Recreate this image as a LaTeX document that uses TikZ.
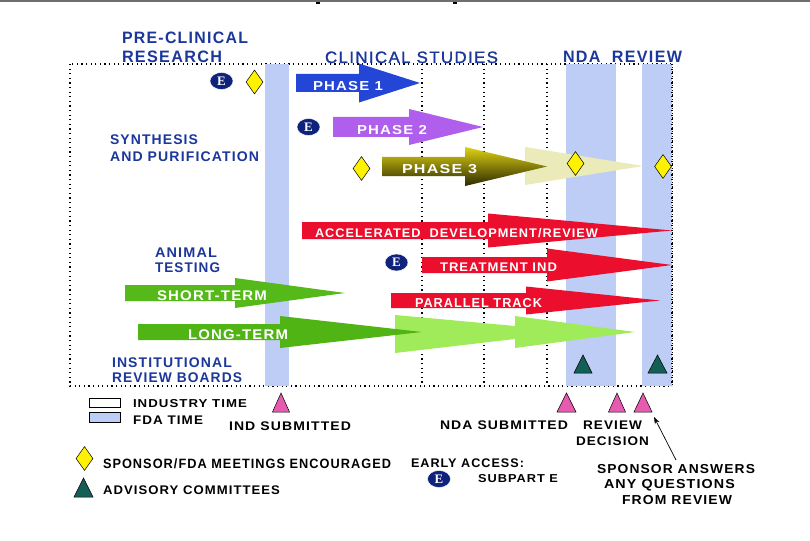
\documentclass[tikz,border=0pt]{standalone}
\usepackage{fontspec}
\usepackage{graphicx}
\setmainfont{Liberation Sans}[LetterSpace=8]
\newfontfamily\semib{Liberation Sans}[LetterSpace=8,FakeBold=1.2]
\newfontfamily\efont{Liberation Serif}
\usetikzlibrary{shapes.geometric,arrows.meta}
\definecolor{headblue}{RGB}{28,55,155}
\definecolor{fdaband}{RGB}{190,205,245}
\definecolor{ph1}{RGB}{35,70,215}
\definecolor{ph2}{RGB}{175,95,235}
\definecolor{redarr}{RGB}{235,15,45}
\definecolor{gshort}{RGB}{85,185,25}
\definecolor{glong}{RGB}{80,180,20}
\definecolor{glight}{RGB}{160,235,90}
\definecolor{paley}{RGB}{235,235,185}
\definecolor{p3top}{RGB}{220,210,20}
\definecolor{p3bot}{RGB}{45,40,0}
\definecolor{enavy}{RGB}{15,35,125}
\definecolor{advteal}{RGB}{20,95,85}
\definecolor{subpink}{RGB}{230,90,175}
\definecolor{topgray}{RGB}{110,110,110}
% text helper: size, width, text
\newcommand\fitT[3]{\fontsize{#1}{#1}\selectfont\resizebox{#2pt}{\height}{#3}}
% big arrow: style, x0, xhead, xtip, ycentre, body half, head half
\newcommand\bigarr[7]{\path[#1] ({#2},{#5-#6}) -- ({#3},{#5-#6}) -- ({#3},{#5-#7}) -- ({#4},{#5}) -- ({#3},{#5+#7}) -- ({#3},{#5+#6}) -- ({#2},{#5+#6}) -- cycle;}
% triangle: colour, x centre, apex y, base y, half width
\newcommand\tri[5]{\filldraw[fill=#1,draw=black,line width=0.5pt] ({#2-#5},{#4}) -- ({#2},{#3}) -- ({#2+#5},{#4}) -- cycle;}
\tikzset{
  lbl/.style={inner sep=0pt,outer sep=0pt,anchor=base west},
  hd/.style={lbl,text=headblue,font=\bfseries},
  side/.style={lbl,text=headblue,font=\bfseries},
  inarr/.style={lbl,text=white,font=\bfseries},
  blk/.style={lbl,text=black,font=\bfseries},
  dotline/.style={line width=1.2pt,dash pattern=on 1.2pt off 3.4pt},
  meet/.style={diamond,draw=black,fill=yellow,line width=0.5pt,inner sep=0pt,minimum width=17pt,minimum height=24pt},
  access/.style={ellipse,fill=enavy,draw=white,line width=0.4pt,inner sep=0pt,minimum width=23pt,minimum height=17pt,text=white,font=\efont\bfseries\fontsize{13}{13}\selectfont}
}
\begin{document}
\begin{tikzpicture}[x=1pt,y=-1pt]
\useasboundingbox (0,0) rectangle (810,540);
\fill[white] (0,0) rectangle (810,540);
% window edge
\fill[topgray] (0,0) rectangle (810,2.5);
\fill[black] (316,2.5) rectangle (320,4.5);
\fill[black] (453,2.5) rectangle (457,4.5);

% dotted frame and time divisions
\draw[dotline] (70,64) rectangle (672,386);
\foreach \xx in {422,484,547} \draw[dotline] (\xx,64) -- (\xx,386);

% FDA time bands
\fill[fdaband] (265,64) rectangle (289,386);
\fill[fdaband] (566,64) rectangle (616,386);
\fill[fdaband] (642,64) rectangle (672,386);
\draw[dotline] (672,64) -- (672,386);

% ghost tails
\fill[paley] (525,147) -- (643,166) -- (525,185) -- cycle;
\fill[glight] (395,315) -- (515,326) -- (515,316) -- (635,332) -- (515,348) -- (515,339) -- (395,353) -- cycle;

% phase arrows
\bigarr{fill=ph1}{296}{359}{420}{83}{9}{19.5}
\bigarr{fill=ph2}{333}{409}{483}{127}{10}{18}
\bigarr{top color=p3top,bottom color=p3bot}{382}{465}{547}{166.5}{9.5}{19.5}

% red arrows
\bigarr{fill=redarr}{302}{488}{672}{230.5}{8.5}{17}
\bigarr{fill=redarr}{422}{547}{672}{265}{8}{16.5}
\bigarr{fill=redarr}{391}{526}{660}{300.5}{7.5}{14}

% animal testing arrows
\bigarr{fill=gshort}{125}{235}{345}{293}{8}{15}
\bigarr{fill=glong}{138}{280}{422}{332}{8}{16}

% meetings
\node[meet] (m1) at (254.5,82) {};
\node[meet] (m2) at (361.5,168.5) {};
\node[meet] (m3) at (575.5,163.5) {};
\node[meet] (m4) at (663,166.5) {};
% early access
\node[access] (e1) at (221.5,81) {E};
\node[access] (e2) at (308.5,127) {E};
\node[access] (e3) at (396.5,262.5) {E};

% advisory committees
\tri{advteal}{583}{355}{373}{9}
\tri{advteal}{657.5}{355}{373}{9.5}
% submissions
\tri{subpink}{281}{393}{412}{8.5}
\tri{subpink}{566.5}{393}{412}{9.5}
\tri{subpink}{617}{393}{412}{8.5}
\tri{subpink}{643}{393}{412}{9}

% headings
\node[hd] (h1) at (122,44) {\fitT{16.5}{126}{PRE-CLINICAL}};
\node[hd] (h2) at (122,63) {\fitT{16.5}{100}{RESEARCH}};
\node[hd,font=\semib] (h3) at (325,63) {\fitT{16.5}{173}{CLINICAL STUDIES}};
\node[hd] (h4) at (563,63) {\fitT{16.5}{119}{NDA\ \ REVIEW}};

% side labels
\node[side] (s1) at (110,145) {\fitT{14}{88}{SYNTHESIS}};
\node[side] (s2) at (110,161) {\fitT{14}{149}{AND PURIFICATION}};
\node[side] (a1) at (155,257) {\fitT{14}{62}{ANIMAL}};
\node[side] (a2) at (155,272) {\fitT{14}{65}{TESTING}};
\node[side] (i1) at (112,367) {\fitT{14}{120}{INSTITUTIONAL}};
\node[side] (i2) at (112,382) {\fitT{14}{130}{REVIEW BOARDS}};

% arrow labels
\node[inarr] (t1) at (313,91) {\fitT{13}{70}{PHASE 1}};
\node[inarr] (t2) at (357,135) {\fitT{13}{70}{PHASE 2}};
\node[inarr] (t3) at (402,173) {\fitT{13}{75}{PHASE 3}};
\node[inarr] (t4) at (315,237) {\fitT{12.5}{283}{ACCELERATED\ \ DEVELOPMENT/REVIEW}};
\node[inarr] (t5) at (440,271) {\fitT{12.5}{117}{TREATMENT IND}};
\node[inarr] (t6) at (415,307) {\fitT{13}{127}{PARALLEL TRACK}};
\node[inarr] (t7) at (157,300) {\fitT{14}{110}{SHORT-TERM}};
\node[inarr] (t8) at (188,339) {\fitT{14}{100}{LONG-TERM}};

% legend
\draw[black,line width=0.6pt,fill=white] (89,398) rectangle (120,407);
\draw[black,line width=0.6pt,fill=fdaband] (89,412) rectangle (120,422);
\node[blk] (l1) at (133,407) {\fitT{11.5}{114}{INDUSTRY TIME}};
\node[blk] (l2) at (133,424) {\fitT{12.5}{70}{FDA TIME}};
\node[blk] (l3) at (229,430) {\fitT{12.5}{122}{IND SUBMITTED}};
\node[meet] (lm) at (84.5,458.5) {};
\node[blk] (l4) at (103,468) {\fitT{13.5}{288}{SPONSOR/FDA MEETINGS ENCOURAGED}};
\tri{advteal}{83.5}{478}{497}{9.5}
\node[blk] (l5) at (103,494) {\fitT{12.5}{177}{ADVISORY COMMITTEES}};
\node[blk] (l6) at (440,429) {\fitT{12.5}{128}{NDA SUBMITTED}};
\node[blk] (l7) at (583,429) {\fitT{12.5}{59}{REVIEW}};
\node[blk] (l8) at (576,445) {\fitT{12.5}{73}{DECISION}};
\node[blk] (l9) at (411,467) {\fitT{12.5}{113}{EARLY ACCESS:}};
\node[access] (le) at (439,479) {E};
\node[blk] (l10) at (478,482) {\fitT{11.5}{80}{SUBPART E}};
\node[blk] (l11) at (597,473) {\fitT{13}{158}{SPONSOR ANSWERS}};
\node[blk] (l12) at (604,488) {\fitT{13}{131}{ANY QUESTIONS}};
\node[blk] (l13) at (622,504) {\fitT{13}{110}{FROM REVIEW}};
\coordinate (saStart) at (676,460);
\coordinate (saEnd) at (654,417);
\draw[black,line width=0.7pt,-{Stealth[length=7pt,width=5pt]}] (saStart) -- (saEnd);
\end{tikzpicture}
\end{document}
